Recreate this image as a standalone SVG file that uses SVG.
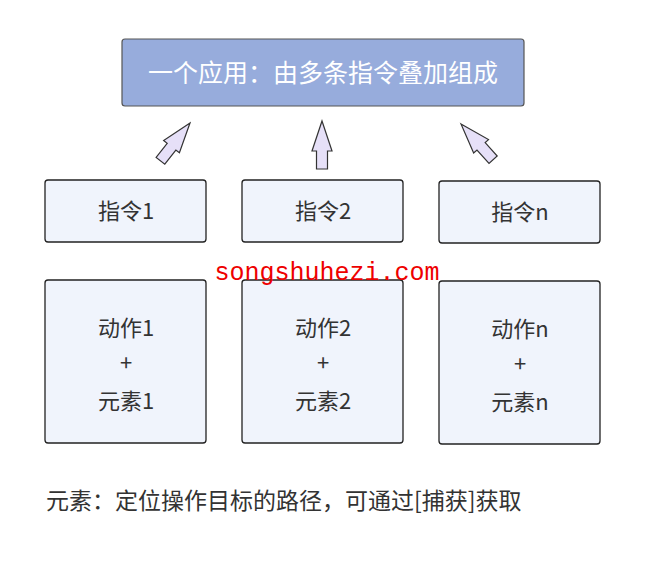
<svg xmlns="http://www.w3.org/2000/svg" width="654" height="561" viewBox="0 0 654 561">
<style>
.n{fill:#f0f4fc;stroke:#222;stroke-width:1.3}
.t{font-family:"Noto Sans CJK SC","Noto Sans",sans-serif;font-size:22px;fill:#333;text-anchor:middle}
.a{fill:#e6e0f8;stroke:#333;stroke-width:1.2;stroke-linejoin:miter}
</style>
<defs><path id="arr" d="M0,0 L10,30 L5.5,30 L5.5,48 L-5.5,48 L-5.5,30 L-10,30 Z"/></defs>
<rect width="654" height="561" fill="#fff"/>
<g id="top"><rect x="122" y="39" width="402" height="67" rx="3" fill="#97acdc" stroke="#555" stroke-width="1.2"/>
<text x="323" y="82" class="t" style="fill:#fff;font-size:25px">一个应用：由多条指令叠加组成</text></g>
<g id="connectors">
<use href="#arr" class="a" transform="translate(190,123) rotate(38)"/>
<use href="#arr" class="a" transform="translate(322,121)"/>
<use href="#arr" class="a" transform="translate(461,124) rotate(-42)"/>
</g>
<g id="c1"><rect x="45" y="180" width="161" height="62" rx="3" class="n"/><text x="126" y="219" class="t">指令1</text></g>
<g id="c2"><rect x="242" y="180" width="161" height="62" rx="3" class="n"/><text x="323" y="219" class="t">指令2</text></g>
<g id="cn"><rect x="439" y="181" width="161" height="62" rx="3" class="n"/><text x="520" y="220" class="t">指令n</text></g>
<g id="d1"><rect x="45" y="280" width="161" height="163" rx="3" class="n"/><text class="t"><tspan x="126" y="336">动作1</tspan><tspan x="126" y="371">+</tspan><tspan x="126" y="409">元素1</tspan></text></g>
<g id="d2"><rect x="242" y="280" width="161" height="163" rx="3" class="n"/><text class="t"><tspan x="323" y="336">动作2</tspan><tspan x="323" y="371">+</tspan><tspan x="323" y="409">元素2</tspan></text></g>
<g id="dn"><rect x="439" y="281" width="161" height="163" rx="3" class="n"/><text class="t"><tspan x="520" y="337">动作n</tspan><tspan x="520" y="372">+</tspan><tspan x="520" y="410">元素n</tspan></text></g>
<text x="46" y="509" style="font-family:'Noto Sans CJK SC',sans-serif;font-size:23px;fill:#333">元素：定位操作目标的路径，可通过[捕获]获取</text>
<text x="327" y="280" style="font-family:'Liberation Mono','Noto Sans CJK SC',monospace;font-size:25px;fill:#e00;text-anchor:middle">songshuhezi.com</text>
</svg>
